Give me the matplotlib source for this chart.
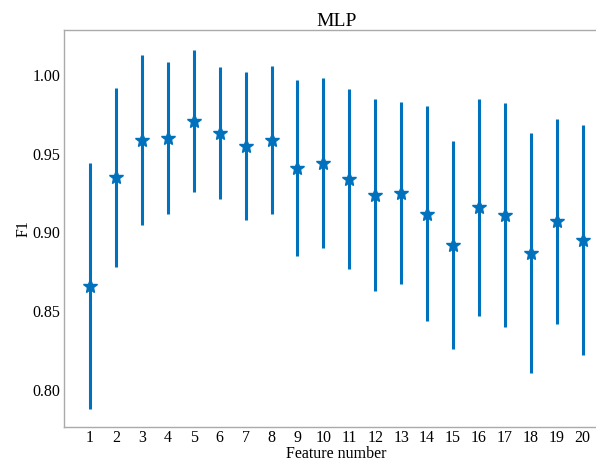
import matplotlib

matplotlib.use("Agg")
import matplotlib.pyplot as plt
import numpy as np

# F1 score per feature number (mean and half-width of the error bar)
features = list(range(1, 21))
f1_mean = [0.866, 0.935, 0.959, 0.960, 0.971, 0.963, 0.955, 0.959, 0.941, 0.944,
           0.934, 0.924, 0.925, 0.912, 0.892, 0.916, 0.911, 0.887, 0.907, 0.895]
f1_err = [0.078, 0.057, 0.054, 0.048, 0.045, 0.042, 0.047, 0.047, 0.056, 0.054,
          0.057, 0.061, 0.058, 0.068, 0.066, 0.069, 0.071, 0.076, 0.065, 0.073]

plt.rcParams["font.family"] = ["Liberation Serif", "DejaVu Serif"]
plt.rcParams["font.size"] = 11.5

fig = plt.figure(figsize=(5.96, 4.61), dpi=100)
# the original figure is cropped on the right, so the axes run past the edge
ax = fig.add_axes([0.1075, 0.074, 0.9136, 0.861])

ax.errorbar(features, f1_mean, yerr=f1_err, fmt="*", color="#0072bd",
            markersize=10, elinewidth=2.2, capsize=0)

ax.set_xlim(0, 21)
ax.set_ylim(0.7765, 1.0286)
ax.set_xticks(features)
ax.set_yticks([0.80, 0.85, 0.90, 0.95, 1.00])
ax.set_yticklabels(["0.80", "0.85", "0.90", "0.95", "1.00"])
ax.tick_params(length=0, pad=2.5)
for s in ax.spines.values():
    s.set_color("#aaaaaa")
    s.set_linewidth(1.0)

ax.set_title("MLP", fontsize=14, pad=2)
ax.set_xlabel("Feature number", labelpad=0)
ax.set_ylabel("F1", labelpad=1)

fig.savefig("out.png", dpi=100)
